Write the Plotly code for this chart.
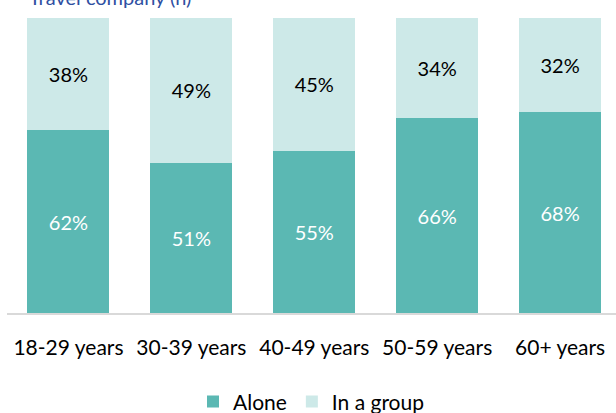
import plotly.graph_objects as go

categories = ["18-29 years", "30-39 years", "40-49 years", "50-59 years", "60+ years"]
alone = [62, 51, 55, 66, 68]
group = [38, 49, 45, 34, 32]
alone_labels = [f"{v}%" for v in alone]
group_labels = [f"{v}%" for v in group]

FONT = "Lato, Open Sans, sans-serif"

fig = go.Figure()
fig.add_trace(go.Bar(
    x=categories, y=alone, name="Alone",
    marker=dict(color="#5BB8B3", line=dict(width=0)),
    text=alone_labels, textposition="inside", insidetextanchor="middle",
    textfont=dict(color="white", size=20, family=FONT),
))
fig.add_trace(go.Bar(
    x=categories, y=group, name="In a group",
    marker=dict(color="#CDE9E8", line=dict(width=0)),
    text=group_labels, textposition="inside", insidetextanchor="middle",
    textfont=dict(color="black", size=20, family=FONT),
))

fig.update_layout(
    barmode="stack",
    bargap=0.333,
    width=616, height=413,
    margin=dict(l=6.5, r=0, t=18, b=100, autoexpand=False),
    paper_bgcolor="white", plot_bgcolor="white",
    font=dict(family=FONT, color="black"),
    uniformtext=dict(mode="show", minsize=20),
    showlegend=True,
    legend=dict(orientation="h", x=0.5, xanchor="center", y=-0.232, yanchor="top",
                font=dict(size=21, family=FONT), itemwidth=30, traceorder="normal"),
    xaxis=dict(range=[-0.5, 4.455], showline=True, linecolor="#D9D9D9", linewidth=2,
               ticks="", tickfont=dict(size=21, family=FONT, color="black"),
               ticklabelstandoff=15, automargin=False),
    yaxis=dict(range=[0, 100], visible=False, showgrid=False, zeroline=False,
               automargin=False),
)

fig.add_annotation(text="Travel company (n)", xref="paper", yref="paper",
                   x=0.033, xanchor="left", y=1.0, yshift=21, yanchor="middle",
                   showarrow=False, font=dict(size=20, color="#2F4FA2", family=FONT))

fig.write_html("out.html", config={"displayModeBar": False},
               post_script="document.body.style.margin='0';")
